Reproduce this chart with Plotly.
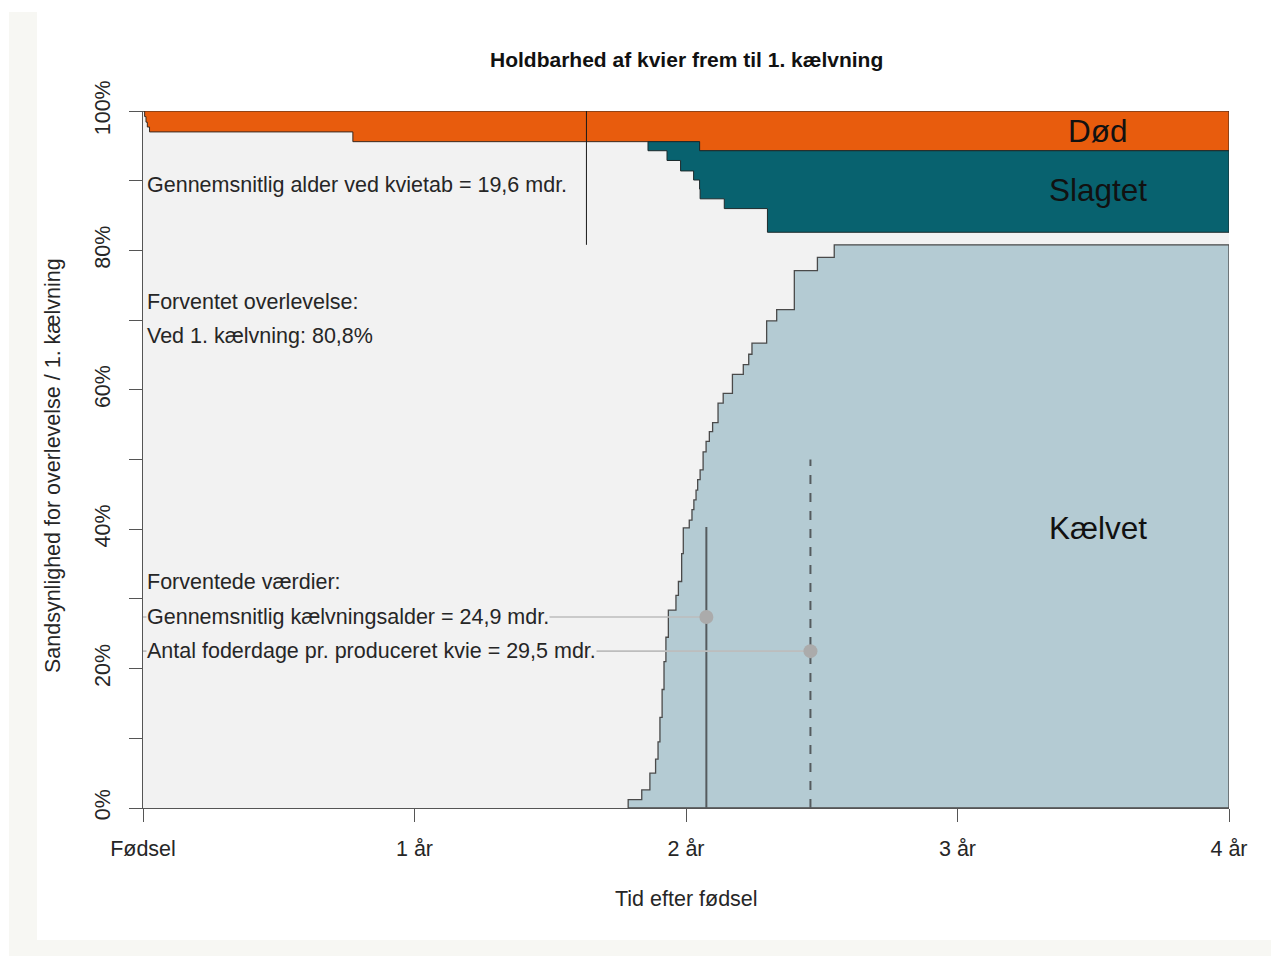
import plotly.graph_objects as go

# ---------------- data (time in years, values in %) ----------------
dod_t = [0.006, 0.011, 0.016, 0.024, 0.773, 2.050]
dod_v = [0.8, 1.6, 2.3, 3.0, 4.4, 5.7]

slag_t = [1.860, 1.930, 1.980, 2.028, 2.052, 2.141, 2.300]
slag_v = [1.3, 2.7, 4.2, 5.5, 6.9, 8.3, 11.7]

kalv_t = [1.787, 1.837, 1.867, 1.888, 1.897, 1.904, 1.912, 1.919, 1.926, 1.935,
          1.963, 1.972, 1.984, 1.990, 2.012, 2.022, 2.029, 2.037, 2.043, 2.052,
          2.063, 2.074, 2.086, 2.098, 2.118, 2.137, 2.171, 2.211, 2.231, 2.243,
          2.297, 2.334, 2.399, 2.484, 2.546]
kalv_v = [1.2, 2.6, 5.0, 7.0, 9.5, 13.0, 17.0, 21.0, 24.5, 28.4,
          30.5, 32.5, 36.5, 40.2, 41.3, 42.8, 44.2, 45.6, 47.1, 48.5,
          51.1, 52.6, 54.0, 55.3, 58.1, 59.5, 62.2, 63.6, 65.1, 66.7,
          69.9, 71.5, 77.1, 79.0, 80.8]

kvietab_mdr = 19.6
overlevelse = 80.8
ref_mdr = [24.9, 29.5]          # mean calving age, feeding days per heifer
ref_top = [40.3, 50.0]          # top of the vertical reference lines
ref_dot = [27.4, 22.5]          # height of the dots / text rows
ref_dash = ["solid", "dash"]

xtick_vals = [0, 1, 2, 3, 4]
xtick_text = ["Fødsel", "1 år", "2 år", "3 år", "4 år"]
ytick_vals = [0, 20, 40, 60, 80, 100]
ytick_text = ["0%", "20%", "40%", "60%", "80%", "100%"]

T_END = 4.0
C_DOD = "#E85C0D"
C_SLAG = "#08626F"
C_KALV = "#B4CBD3"
C_PANEL = "#F2F2F2"
FONT = "Liberation Sans, Arial, sans-serif"
FS = 21.5


def cum(ts, vs, t):
    v = 0.0
    for ti, vi in zip(ts, vs):
        if ti <= t:
            v = vi
    return v


def step_line(times, func, t0, t1):
    xs, ys = [t0], [func(t0)]
    for t in sorted(set(times)):
        if t0 < t < t1:
            xs += [t, t]
            ys += [func(t - 1e-9), func(t)]
    xs.append(t1)
    ys.append(func(t1))
    return xs, ys


fig = go.Figure()

# Død polygon
dod_low = lambda t: 100 - cum(dod_t, dod_v, t)
lx, ly = step_line(dod_t, dod_low, 0, T_END)
px = [0, T_END] + lx[::-1]
py = [100, 100] + ly[::-1]
fig.add_trace(go.Scatter(x=px + [px[0]], y=py + [py[0]], fill="toself", fillcolor=C_DOD,
                         mode="lines", line=dict(color="#3a2a20", width=1), hoverinfo="skip",
                         showlegend=False))

# Slagtet polygon
s0 = slag_t[0]
top_f = lambda t: 100 - cum(dod_t, dod_v, t)
bot_f = lambda t: 100 - cum(dod_t, dod_v, t) - cum(slag_t, slag_v, t)
tx, ty = step_line(dod_t, top_f, s0, T_END)
bx, by = step_line(dod_t + slag_t, bot_f, s0, T_END)
px = tx + bx[::-1]
py = ty + by[::-1]
fig.add_trace(go.Scatter(x=px + [px[0]], y=py + [py[0]], fill="toself", fillcolor=C_SLAG,
                         mode="lines", line=dict(color="#1d2a2c", width=1), hoverinfo="skip",
                         showlegend=False))

# Kælvet polygon
k0 = kalv_t[0]
k_f = lambda t: cum(kalv_t, kalv_v, t)
kx, ky = step_line(kalv_t, k_f, k0, T_END)
px = [k0] + kx + [T_END, k0]
py = [0] + ky + [0, 0]
fig.add_trace(go.Scatter(x=px, y=py, fill="toself", fillcolor=C_KALV,
                         mode="lines", line=dict(color="#4a4a4a", width=1.3), hoverinfo="skip",
                         showlegend=False))

# kvietab vertical line
kv = kvietab_mdr / 12
fig.add_trace(go.Scatter(x=[kv, kv], y=[overlevelse, 100], mode="lines",
                         line=dict(color="#1a1a1a", width=1), hoverinfo="skip", showlegend=False))

# reference lines and dots
for m, top, dy, dash in zip(ref_mdr, ref_top, ref_dot, ref_dash):
    xv = m / 12
    fig.add_trace(go.Scatter(x=[0, xv], y=[dy, dy], mode="lines",
                             line=dict(color="#BDBDBD", width=1.6), hoverinfo="skip",
                             showlegend=False))
    fig.add_trace(go.Scatter(x=[xv, xv], y=[0, top], mode="lines",
                             line=dict(color="#555B5E", width=2, dash=dash), hoverinfo="skip",
                             showlegend=False))
    fig.add_trace(go.Scatter(x=[xv], y=[dy], mode="markers",
                             marker=dict(color="#ABABAB", size=14), hoverinfo="skip",
                             showlegend=False))

ann = []
txt_font = dict(family=FONT, size=FS, color="#262626")


def add_text(y, text):
    ann.append(dict(x=0.011, y=y, xref="x", yref="y", text=text, showarrow=False,
                    xanchor="left", yanchor="middle", font=txt_font, bgcolor=C_PANEL,
                    borderpad=0))


add_text(89.4, "Gennemsnitlig alder ved kvietab = %s mdr." % str(kvietab_mdr).replace(".", ","))
add_text(72.6, "Forventet overlevelse:")
add_text(67.7, "Ved 1. kælvning: %s%%" % str(overlevelse).replace(".", ","))
add_text(32.4, "Forventede værdier:")
add_text(ref_dot[0], "Gennemsnitlig kælvningsalder = %s mdr." % str(ref_mdr[0]).replace(".", ","))
add_text(ref_dot[1], "Antal foderdage pr. produceret kvie = %s mdr." % str(ref_mdr[1]).replace(".", ","))

big = dict(family=FONT, size=31.5, color="#111111")
ann.append(dict(x=3.517, y=97.1, xref="x", yref="y", text="Død", showarrow=False, font=big))
ann.append(dict(x=3.517, y=88.7, xref="x", yref="y", text="Slagtet", showarrow=False, font=big))
ann.append(dict(x=3.517, y=40.2, xref="x", yref="y", text="Kælvet", showarrow=False, font=big))

# axis titles
ann.append(dict(x=0.5, y=-0.1306, xref="paper", yref="paper", text="Tid efter fødsel",
                showarrow=False, yanchor="middle", font=dict(family=FONT, size=FS, color="#262626")))
ann.append(dict(x=-0.0829, y=0.492, xref="paper", yref="paper",
                text="Sandsynlighed for overlevelse / 1. kælvning", textangle=-90,
                showarrow=False, xanchor="center", yanchor="middle",
                font=dict(family=FONT, size=FS, color="#262626")))
# title
ann.append(dict(x=0.5, y=1.0746, xref="paper", yref="paper",
                text="<b>Holdbarhed af kvier frem til 1. kælvning</b>", showarrow=False,
                yanchor="middle", font=dict(family=FONT, size=21, color="#111111")))

shapes = [
    dict(type="rect", xref="paper", yref="paper", x0=-0.1234, x1=-0.0976, y0=-0.2123, y1=1.142,
         fillcolor="#F7F7F3", line=dict(width=0), layer="below"),
    dict(type="rect", xref="paper", yref="paper", x0=-0.1234, x1=1.046, y0=-0.2123, y1=-0.1894,
         fillcolor="#F7F7F3", line=dict(width=0), layer="below"),
]

fig.update_layout(
    width=1271, height=948,
    margin=dict(l=135, r=50, t=103, b=148),
    paper_bgcolor="white", plot_bgcolor=C_PANEL,
    font=dict(family=FONT, size=FS, color="#262626"),
    annotations=ann, shapes=shapes, showlegend=False,
    xaxis=dict(range=[0, T_END], tickvals=xtick_vals, ticktext=xtick_text,
               ticks="outside", ticklen=13, tickcolor="#555", tickwidth=1.3,
               showline=True, linecolor="#555", linewidth=1.3, showgrid=False, zeroline=False,
               ticklabelstandoff=8, tickfont=dict(size=FS, color="#262626")),
    yaxis=dict(range=[0, 100], tickvals=ytick_vals, ticktext=ytick_text, tickangle=-90,
               ticks="outside", ticklen=13, tickcolor="#555", tickwidth=1.3,
               minor=dict(dtick=10, ticks="outside", ticklen=13, tickcolor="#555", tickwidth=1.3),
               showline=True, linecolor="#555", linewidth=1.3, showgrid=False, zeroline=False,
               ticklabelstandoff=10, tickfont=dict(size=FS, color="#262626")),
)

fig.write_html("out.html")
